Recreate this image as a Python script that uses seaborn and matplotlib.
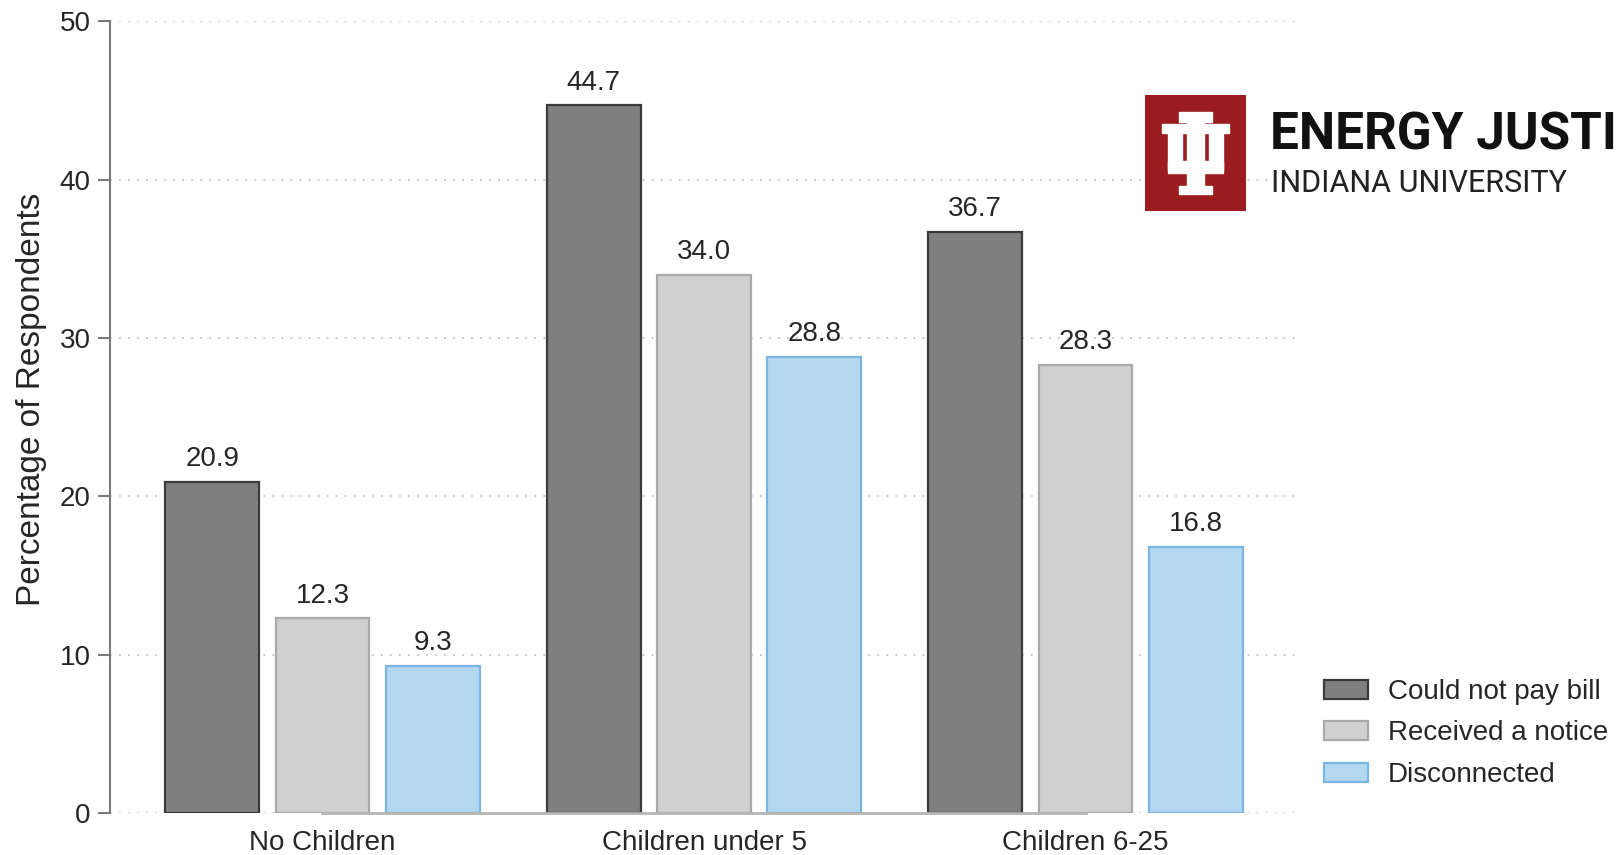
import matplotlib
matplotlib.use("Agg")
import matplotlib.pyplot as plt
from matplotlib.patches import Rectangle
import seaborn as sns
import pandas as pd

# data
groups = ["No Children", "Children under 5", "Children 6-25"]
statuses = ["Could not pay bill", "Received a notice", "Disconnected"]
could_not_pay = [20.9, 44.7, 36.7]
received_notice = [12.3, 34.0, 28.3]
disconnected = [9.3, 28.8, 16.8]
y_ticks = [0, 10, 20, 30, 40, 50]

fills = {"Could not pay bill": "#7f7f7f", "Received a notice": "#d0d0d0", "Disconnected": "#b4d7f0"}
edges = {"Could not pay bill": "#3a3a3a", "Received a notice": "#a9a9a9", "Disconnected": "#78b6e4"}

df = pd.DataFrame({
    "group": groups * 3,
    "status": [s for s in statuses for _ in groups],
    "pct": could_not_pay + received_notice + disconnected,
})

sns.set_theme(style="white")
plt.rcParams["font.family"] = ["Liberation Sans", "DejaVu Sans"]
text_col = "#262626"

fig = plt.figure(figsize=(16.16, 8.55), dpi=100)
ax = fig.add_axes([0.068, 0.049, 0.736, 0.926])

sns.barplot(data=df, x="group", y="pct", hue="status", hue_order=statuses,
            order=groups, palette=fills, saturation=1, width=0.867, gap=0.15,
            linewidth=1.6, legend=False, ax=ax)

for cont, status in zip(ax.containers, statuses):
    for p in cont.patches:
        p.set_edgecolor(edges[status])
    ax.bar_label(cont, fmt="%.1f", padding=7, fontsize=20, color=text_col)

ax.set_xlim(-0.557, 2.56)
ax.set_ylim(0, 50)
ax.set_yticks(y_ticks)
ax.set_axisbelow(True)
ax.yaxis.grid(True, linestyle=(0, (1, 4)), color="#c4c4c4", linewidth=1.3)
ax.xaxis.grid(False)

for side in ["top", "right"]:
    ax.spines[side].set_visible(False)
ax.spines["left"].set_color("#7a7a7a")
ax.spines["left"].set_linewidth(1.5)
ax.spines["left"].set_bounds(0, 50)
ax.spines["bottom"].set_color("#b5b5b5")
ax.spines["bottom"].set_linewidth(2)
ax.spines["bottom"].set_bounds(0, 2)

ax.tick_params(axis="y", left=True, length=9, width=1.5, color="#7a7a7a",
               labelsize=20, labelcolor=text_col, pad=5)
ax.tick_params(axis="x", bottom=False, labelsize=20, labelcolor=text_col, pad=6)
ax.set_xlabel("")
ax.set_ylabel("Percentage of Respondents", fontsize=24, color=text_col)
ax.yaxis.set_label_coords(-0.053, 0.523)

ax.legend(handles=ax.containers, labels=statuses, loc="upper left",
          bbox_to_anchor=(0.819, 0.206), bbox_transform=fig.transFigure,
          frameon=False, fontsize=20, handlelength=1.6, handleheight=0.68,
          handletextpad=0.72, labelspacing=0.56, borderpad=0, borderaxespad=0,
          labelcolor=text_col)

# logo in the upper right
crimson = "#9b1c1f"
logo = fig.add_axes([1145 / 1616, 1 - 211 / 855, 101 / 1616, 116 / 855])
logo.set_xlim(0, 100)
logo.set_ylim(116, 0)
logo.axis("off")
logo.add_patch(Rectangle((0, 0), 100, 116, color=crimson))
trident = [
    (42, 20, 16, 76),   # stem
    (34, 17, 32, 10),   # stem top serif
    (23, 31, 14, 44),   # left prong
    (63, 31, 14, 44),   # right prong
    (17, 29, 26, 9),    # left serif
    (57, 29, 26, 9),    # right serif
    (23, 66, 54, 12),   # cross bar
    (34, 91, 32, 8),    # base serif
]
for x0, y0, w, h in trident:
    logo.add_patch(Rectangle((x0, y0), w, h, color="white"))

fig.text(1270 / 1616, 1 - 149 / 855, "ENERGY JUSTICE",
         family=["Roboto", "DejaVu Sans"],
         fontweight="bold", fontsize=37, color="#111111", va="baseline")
fig.text(1271 / 1616, 1 - 192 / 855, "INDIANA UNIVERSITY",
         family=["Roboto", "DejaVu Sans"],
         fontsize=22, color="#222222", va="baseline")

fig.savefig("out.png", dpi=100)
